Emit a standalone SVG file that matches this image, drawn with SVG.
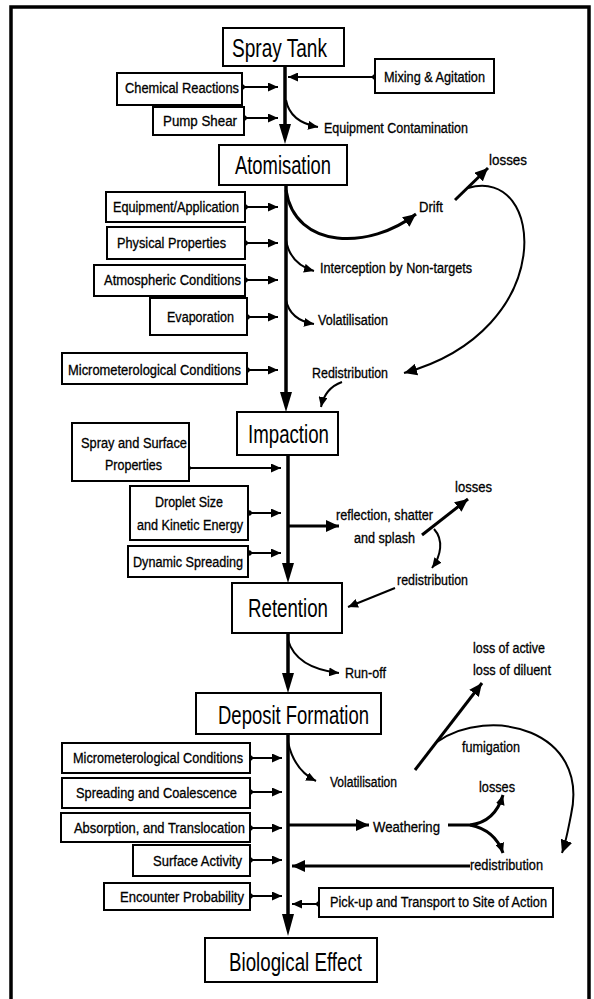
<svg xmlns="http://www.w3.org/2000/svg" width="594" height="999" viewBox="0 0 594 999">
<style>
.box{fill:#fff;stroke:#000;stroke-width:2}
.t{font-family:"Liberation Sans",Arial,sans-serif;font-size:26px;fill:#000}
.l{font-family:"Liberation Sans",Arial,sans-serif;font-size:14px;fill:#000;stroke:#000;stroke-width:0.3}
.c{fill:none;stroke:#000;stroke-width:2}
.ck{fill:none;stroke:#000;stroke-width:3}
.main{fill:none;stroke:#000;stroke-width:3.5}
.head{fill:#000}
</style>
<defs>
<marker id="ah" markerUnits="userSpaceOnUse" markerWidth="11" markerHeight="9" refX="10" refY="4.5" orient="auto"><path d="M0,0 L10,4.5 L0,9 z" fill="#000"/></marker>
<marker id="ahb" markerUnits="userSpaceOnUse" markerWidth="14" markerHeight="12" refX="13" refY="6" orient="auto"><path d="M0,0 L13,6 L0,12 z" fill="#000"/></marker>
<marker id="dot" markerUnits="userSpaceOnUse" markerWidth="7" markerHeight="7" refX="3.5" refY="3.5"><circle cx="3.5" cy="3.5" r="2.8" fill="#000"/></marker>
</defs>
<rect x="11" y="7" width="578" height="1010" fill="none" stroke="#000" stroke-width="3.5"/>

<g id="connectors">
<line class="main" x1="285" y1="66" x2="285" y2="126"/>
<polygon class="head" points="279,124 291,124 285,144"/>
<line class="main" x1="286" y1="185" x2="286" y2="393"/>
<polygon class="head" points="280,392 292,392 286,412"/>
<line class="main" x1="288" y1="455" x2="288" y2="565"/>
<polygon class="head" points="282,563 294,563 288,583"/>
<line class="main" x1="288" y1="633" x2="288" y2="675"/>
<polygon class="head" points="282,673 294,673 288,693"/>
<line class="main" x1="288" y1="734" x2="288" y2="916"/>
<polygon class="head" points="282,914 294,914 288,936"/>
<line class="c" x1="375" y1="77" x2="288" y2="77" marker-start="url(#dot)" marker-end="url(#ah)"/>
<line class="c" x1="242" y1="87" x2="278" y2="87" marker-start="url(#dot)" marker-end="url(#ah)"/>
<line class="c" x1="244" y1="118" x2="278" y2="118" marker-start="url(#dot)" marker-end="url(#ah)"/>
<line class="c" x1="245" y1="207" x2="278" y2="207" marker-start="url(#dot)" marker-end="url(#ah)"/>
<line class="c" x1="245" y1="243" x2="278" y2="243" marker-start="url(#dot)" marker-end="url(#ah)"/>
<line class="c" x1="245" y1="280" x2="278" y2="280" marker-start="url(#dot)" marker-end="url(#ah)"/>
<line class="c" x1="247" y1="317" x2="278" y2="317" marker-start="url(#dot)" marker-end="url(#ah)"/>
<line class="c" x1="247" y1="370" x2="278" y2="370" marker-start="url(#dot)" marker-end="url(#ah)"/>
<line class="c" x1="188" y1="468" x2="281" y2="468" marker-start="url(#dot)" marker-end="url(#ah)"/>
<line class="c" x1="249" y1="513" x2="281" y2="513" marker-start="url(#dot)" marker-end="url(#ah)"/>
<line class="c" x1="249" y1="553" x2="281" y2="553" marker-start="url(#dot)" marker-end="url(#ah)"/>
<line class="c" x1="250" y1="758" x2="282" y2="758" marker-start="url(#dot)" marker-end="url(#ah)"/>
<line class="c" x1="250" y1="792" x2="282" y2="792" marker-start="url(#dot)" marker-end="url(#ah)"/>
<line class="c" x1="250" y1="828" x2="282" y2="828" marker-start="url(#dot)" marker-end="url(#ah)"/>
<line class="c" x1="250" y1="860" x2="282" y2="860" marker-start="url(#dot)" marker-end="url(#ah)"/>
<line class="c" x1="250" y1="896" x2="282" y2="896" marker-start="url(#dot)" marker-end="url(#ah)"/>
<line class="c" x1="319" y1="904" x2="292" y2="904" marker-start="url(#dot)" marker-end="url(#ah)"/>
<line class="ck" x1="470" y1="866" x2="292" y2="866" marker-end="url(#ahb)"/>
<path class="c" d="M286 100 Q290 122 318 127" marker-end="url(#ah)"/>
<path class="ck" d="M286 190 C295 250 370 250 416 214" marker-end="url(#ahb)"/>
<line class="ck" x1="455" y1="200" x2="488" y2="168" marker-end="url(#ahb)"/>
<path class="c" d="M286 240 Q290 264 314 271" marker-end="url(#ah)"/>
<path class="c" d="M286 300 Q290 320 314 324" marker-end="url(#ah)"/>
<path class="c" d="M468 188 C545 165 560 330 404 373" marker-end="url(#ahb)"/>
<path class="c" d="M342 382 Q325 388 321 407" marker-end="url(#ah)"/>
<line class="ck" x1="288" y1="526" x2="339" y2="526" marker-end="url(#ahb)"/>
<line class="ck" x1="422" y1="535" x2="468" y2="499" marker-end="url(#ahb)"/>
<path class="c" d="M434 529 C444 540 441 556 432 568" marker-end="url(#ah)"/>
<line class="c" x1="395" y1="588" x2="348" y2="607" marker-end="url(#ah)"/>
<path class="c" d="M288 640 Q296 668 339 673" marker-end="url(#ah)"/>
<path class="c" d="M288 742 Q294 770 316 781" marker-end="url(#ah)"/>
<line class="ck" x1="415" y1="770" x2="482" y2="683" marker-end="url(#ahb)"/>
<path class="c" d="M437 742 C490 705 590 730 571 815 C568 830 566 842 562 853" marker-end="url(#ahb)"/>
<line class="ck" x1="288" y1="825" x2="369" y2="825" marker-end="url(#ahb)"/>
<path class="ck" d="M448 825 L470 825 Q495 822 503 795" marker-end="url(#ah)"/>
<path class="ck" d="M470 825 Q495 830 503 853" marker-end="url(#ah)"/>
</g>

<g id="spray-tank"><rect class="box" x="223" y="28" width="121" height="38"/><text class="t" x="232" y="57" textLength="95" lengthAdjust="spacingAndGlyphs">Spray Tank</text></g>
<g id="atomisation"><rect class="box" x="219" y="145" width="128" height="40"/><text class="t" x="235" y="174" textLength="96" lengthAdjust="spacingAndGlyphs">Atomisation</text></g>
<g id="impaction"><rect class="box" x="237" y="412" width="101" height="43"/><text class="t" x="248" y="443" textLength="81" lengthAdjust="spacingAndGlyphs">Impaction</text></g>
<g id="retention"><rect class="box" x="232" y="583" width="110" height="50"/><text class="t" x="248" y="617" textLength="80" lengthAdjust="spacingAndGlyphs">Retention</text></g>
<g id="deposit-formation"><rect class="box" x="196" y="693" width="185" height="41"/><text class="t" x="218" y="724" textLength="151" lengthAdjust="spacingAndGlyphs">Deposit Formation</text></g>
<g id="biological-effect"><rect class="box" x="205" y="938" width="172" height="44"/><text class="t" x="229" y="971" textLength="133" lengthAdjust="spacingAndGlyphs">Biological Effect</text></g>

<g id="mixing"><rect class="box" x="375" y="59" width="119" height="34"/><text class="l" x="384" y="82" textLength="101" lengthAdjust="spacingAndGlyphs">Mixing &amp; Agitation</text></g>
<g id="chemical"><rect class="box" x="117" y="73" width="125" height="32"/><text class="l" x="125" y="93" textLength="114" lengthAdjust="spacingAndGlyphs">Chemical Reactions</text></g>
<g id="pump"><rect class="box" x="153" y="107" width="91" height="28"/><text class="l" x="163" y="126" textLength="74" lengthAdjust="spacingAndGlyphs">Pump Shear</text></g>
<g id="equipment"><rect class="box" x="106" y="192" width="139" height="30"/><text class="l" x="113" y="212" textLength="126" lengthAdjust="spacingAndGlyphs">Equipment/Application</text></g>
<g id="physical"><rect class="box" x="107" y="227" width="138" height="32"/><text class="l" x="117" y="248" textLength="109" lengthAdjust="spacingAndGlyphs">Physical Properties</text></g>
<g id="atmospheric"><rect class="box" x="94" y="265" width="151" height="31"/><text class="l" x="104" y="285" textLength="137" lengthAdjust="spacingAndGlyphs">Atmospheric Conditions</text></g>
<g id="evaporation"><rect class="box" x="150" y="298" width="97" height="37"/><text class="l" x="167" y="322" textLength="67" lengthAdjust="spacingAndGlyphs">Evaporation</text></g>
<g id="micro1"><rect class="box" x="62" y="353" width="185" height="31"/><text class="l" x="68" y="375" textLength="173" lengthAdjust="spacingAndGlyphs">Micrometerological Conditions</text></g>
<g id="spray-surface"><rect class="box" x="72" y="423" width="117" height="58"/><text class="l" x="81" y="448" textLength="106" lengthAdjust="spacingAndGlyphs">Spray and Surface</text><text class="l" x="105" y="470" textLength="57" lengthAdjust="spacingAndGlyphs">Properties</text></g>
<g id="droplet"><rect class="box" x="130" y="486" width="118" height="54"/><text class="l" x="155" y="507" textLength="68" lengthAdjust="spacingAndGlyphs">Droplet Size</text><text class="l" x="137" y="530" textLength="106" lengthAdjust="spacingAndGlyphs">and Kinetic Energy</text></g>
<g id="dynamic"><rect class="box" x="128" y="546" width="120" height="31"/><text class="l" x="133" y="567" textLength="110" lengthAdjust="spacingAndGlyphs">Dynamic Spreading</text></g>
<g id="micro2"><rect class="box" x="62" y="743" width="188" height="30"/><text class="l" x="73" y="763" textLength="170" lengthAdjust="spacingAndGlyphs">Micrometerological Conditions</text></g>
<g id="spreading"><rect class="box" x="62" y="778" width="188" height="30"/><text class="l" x="76" y="798" textLength="161" lengthAdjust="spacingAndGlyphs">Spreading and Coalescence</text></g>
<g id="absorption"><rect class="box" x="61" y="813" width="189" height="29"/><text class="l" x="74" y="833" textLength="171" lengthAdjust="spacingAndGlyphs">Absorption, and Translocation</text></g>
<g id="surface"><rect class="box" x="133" y="845" width="117" height="31"/><text class="l" x="153" y="866" textLength="89" lengthAdjust="spacingAndGlyphs">Surface Activity</text></g>
<g id="encounter"><rect class="box" x="104" y="883" width="146" height="27"/><text class="l" x="120" y="902" textLength="124" lengthAdjust="spacingAndGlyphs">Encounter Probability</text></g>
<g id="pickup"><rect class="box" x="319" y="888" width="234" height="29"/><text class="l" x="330" y="907" textLength="217" lengthAdjust="spacingAndGlyphs">Pick-up and Transport to Site of Action</text></g>

<g id="labels">
<text class="l" x="324" y="133" textLength="144" lengthAdjust="spacingAndGlyphs">Equipment Contamination</text>
<text class="l" x="419" y="212" textLength="24" lengthAdjust="spacingAndGlyphs">Drift</text>
<text class="l" x="489" y="165" textLength="38" lengthAdjust="spacingAndGlyphs">losses</text>
<text class="l" x="320" y="273" textLength="152" lengthAdjust="spacingAndGlyphs">Interception by Non-targets</text>
<text class="l" x="318" y="325" textLength="70" lengthAdjust="spacingAndGlyphs">Volatilisation</text>
<text class="l" x="312" y="378" textLength="76" lengthAdjust="spacingAndGlyphs">Redistribution</text>
<text class="l" x="336" y="520" textLength="97" lengthAdjust="spacingAndGlyphs">reflection, shatter</text>
<text class="l" x="354" y="543" textLength="61" lengthAdjust="spacingAndGlyphs">and splash</text>
<text class="l" x="455" y="492" textLength="37" lengthAdjust="spacingAndGlyphs">losses</text>
<text class="l" x="397" y="585" textLength="71" lengthAdjust="spacingAndGlyphs">redistribution</text>
<text class="l" x="345" y="678" textLength="41" lengthAdjust="spacingAndGlyphs">Run-off</text>
<text class="l" x="473" y="653" textLength="72" lengthAdjust="spacingAndGlyphs">loss of active</text>
<text class="l" x="473" y="675" textLength="78" lengthAdjust="spacingAndGlyphs">loss of diluent</text>
<text class="l" x="462" y="752" textLength="58" lengthAdjust="spacingAndGlyphs">fumigation</text>
<text class="l" x="330" y="787" textLength="67" lengthAdjust="spacingAndGlyphs">Volatilisation</text>
<text class="l" x="479" y="792" textLength="36" lengthAdjust="spacingAndGlyphs">losses</text>
<text class="l" x="373" y="832" textLength="67" lengthAdjust="spacingAndGlyphs">Weathering</text>
<text class="l" x="470" y="870" textLength="73" lengthAdjust="spacingAndGlyphs">redistribution</text>
</g>
</svg>
